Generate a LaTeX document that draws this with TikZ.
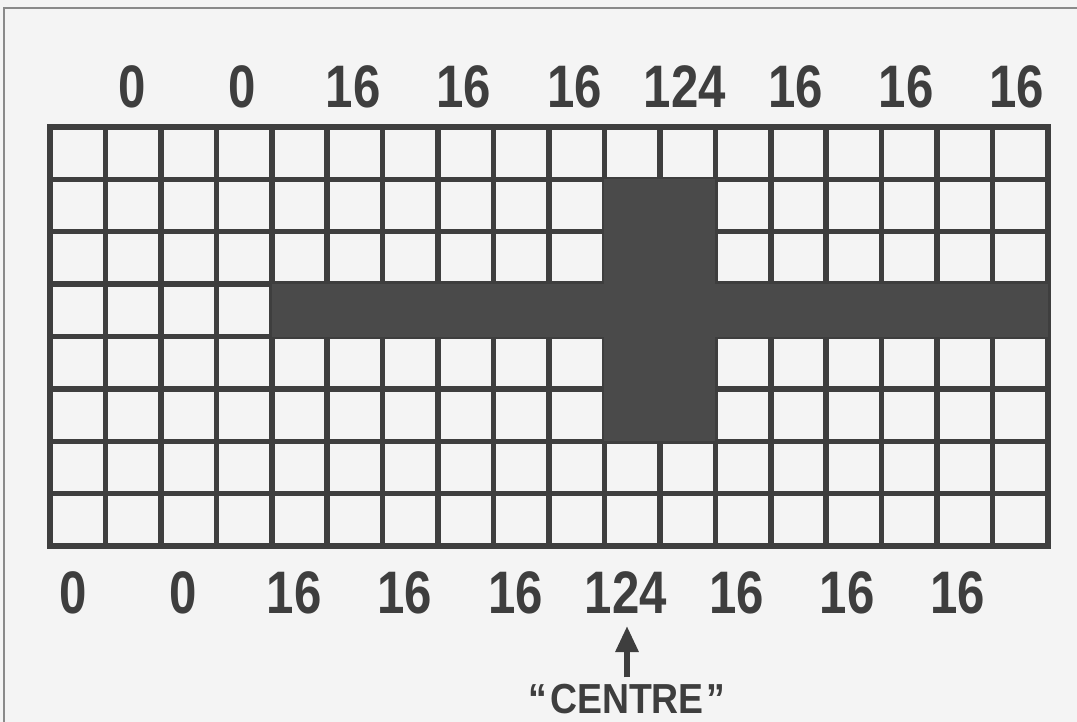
\documentclass[tikz,border=0pt]{standalone}
\usepackage{fontspec}
\setmainfont{Liberation Sans}
\usetikzlibrary{arrows.meta}
\definecolor{ink}{HTML}{3E3E3E}
\definecolor{paper}{HTML}{F4F4F4}
\definecolor{darkcell}{HTML}{4A4A4A}
\definecolor{framec}{HTML}{8A8A8A}
\newcommand{\condnum}[1]{\scalebox{0.82}[1]{#1}}
\begin{document}
\begin{tikzpicture}[x=1pt,y=-1pt,
  num/.style={font=\bfseries\fontsize{60}{60}\selectfont, text=ink, inner sep=0pt, anchor=base},
  lbl/.style={font=\bfseries\fontsize{42}{42}\selectfont, text=ink, inner sep=0pt, anchor=base},
  gridline/.style={draw=ink, line width=5.5pt},
  filled/.style={fill=darkcell},
  pointer/.style={draw=ink, line width=6pt, -{Triangle[width=22pt,length=26pt]}}
]
\useasboundingbox (0,0) rectangle (1077,722);
\fill[paper] (0,0) rectangle (1077,722);
\begin{scope}
\clip (0,0) rectangle (1077,722);
\draw[framec, line width=2pt] (4,760) -- (4,8) -- (1100,8);
\end{scope}
% grid
\def\gx{50}\def\gy{127}\def\cw{55.444}\def\ch{52.375}
\foreach \i in {0,...,18}{
  \draw[gridline] ({\gx+\i*\cw},{\gy-2.75}) -- ({\gx+\i*\cw},{\gy+8*\ch+2.75});
}
\foreach \j in {0,...,8}{
  \draw[gridline] ({\gx-2.75},{\gy+\j*\ch}) -- ({\gx+18*\cw+2.75},{\gy+\j*\ch});
}
% cross
\fill[filled] ({\gx+4*\cw},{\gy+3*\ch}) rectangle ({\gx+18*\cw},{\gy+4*\ch});
\fill[filled] ({\gx+10*\cw},{\gy+1*\ch}) rectangle ({\gx+12*\cw},{\gy+6*\ch});
% top labels
\foreach \v [count=\k from 0] in {0,0,16,16,16,124,16,16,16}{
  \node[num] (t\k) at ({132+110.6*\k},108) {\condnum{\v}};
}
% bottom labels
\foreach \v [count=\k from 0] in {0,0,16,16,16,124,16,16,16}{
  \node[num] (b\k) at ({73+110.6*\k},613) {\condnum{\v}};
}
\node[lbl] (centre) at (627,713) {\scalebox{0.89}[1]{``\kern3pt CENTRE\kern3pt''}};
\coordinate (tip) at (627,626);
\draw[pointer] ([yshift=6pt]centre.north -| tip) -- (tip);
\end{tikzpicture}
\end{document}
